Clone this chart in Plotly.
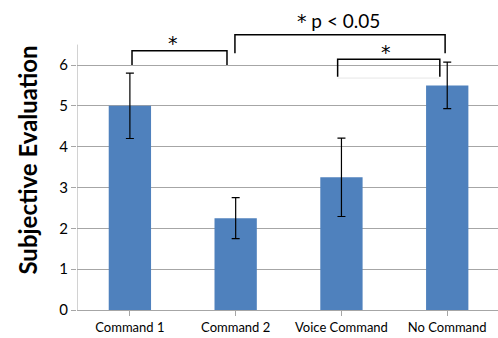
import plotly.graph_objects as go

categories = ["Command 1", "Command 2", "Voice Command", "No Command"]
means = [5.0, 2.25, 3.25, 5.5]
errors = [0.8, 0.5, 0.96, 0.57]
y_ticks = [0, 1, 2, 3, 4, 5, 6]

FONT = "Lato, 'Liberation Sans', sans-serif"
STAR_FONT = "'DejaVu Sans', sans-serif"
BLUE = "#4F81BD"
GRID = "#A6A6A6"

fig = go.Figure()
fig.add_trace(go.Bar(
    x=list(range(len(categories))), y=means, width=0.4,
    marker=dict(color=BLUE, line=dict(width=0)),
    error_y=dict(type="data", array=errors, visible=True, color="black", thickness=1.2, width=4),
))

shapes = []
# y-axis line from 0 to 6.5
shapes.append(dict(type="line", xref="x", yref="y", x0=-0.5, x1=-0.5, y0=0, y1=6.5,
                   line=dict(color=GRID, width=1)))

def bracket(x0, x1, ytop, yl, yr):
    return dict(type="path", xref="x", yref="y",
                path=f"M {x0},{yl} L {x0},{ytop} L {x1},{ytop} L {x1},{yr}",
                line=dict(color="black", width=1.5))

shapes.append(bracket(0.02, 0.918, 6.35, 6.0, 6.0))
shapes.append(bracket(0.993, 2.98, 6.74, 6.29, 6.29))
shapes.append(bracket(1.964, 2.93, 6.14, 5.71, 5.71))
shapes.append(dict(type="line", xref="x", yref="y", x0=1.964, x1=2.93, y0=5.68, y1=5.68,
                   line=dict(color="#E6E6E6", width=1)))

annotations = [
    dict(x=0.41, y=6.55, xref="x", yref="y", text="*", showarrow=False,
         font=dict(size=19, color="black", family=STAR_FONT)),
    dict(x=2.42, y=6.33, xref="x", yref="y", text="*", showarrow=False,
         font=dict(size=19, color="black", family=STAR_FONT)),
    dict(x=1.97, y=7.08, xref="x", yref="y",
         text="<span style='font-family:DejaVu Sans'>*</span> p < 0.05", showarrow=False,
         font=dict(size=19, color="black", family=FONT)),
]

fig.update_layout(
    width=498, height=338,
    margin=dict(l=77, r=0, t=10, b=28),
    paper_bgcolor="white", plot_bgcolor="white",
    showlegend=False, bargap=0.6,
    shapes=shapes, annotations=annotations,
    font=dict(family=FONT, color="black"),
)
fig.update_xaxes(
    tickmode="array", tickvals=list(range(len(categories))), ticktext=categories,
    range=[-0.5, 3.48], showgrid=False, showline=True, linecolor=GRID, linewidth=1,
    ticks="outside", tickson="boundaries", ticklen=5, tickcolor=GRID,
    tickfont=dict(size=13, family=FONT), zeroline=False,
)
fig.update_yaxes(
    range=[0, 7.347], tickmode="array", tickvals=y_ticks,
    showgrid=True, gridcolor=GRID, gridwidth=1, showline=False, zeroline=False,
    ticks="outside", ticklen=5, tickcolor=GRID,
    tickfont=dict(size=15, family=FONT),
    title=dict(text="<b>Subjective Evaluation</b>", font=dict(size=24, family=FONT), standoff=14),
)

fig.write_html("out.html")
